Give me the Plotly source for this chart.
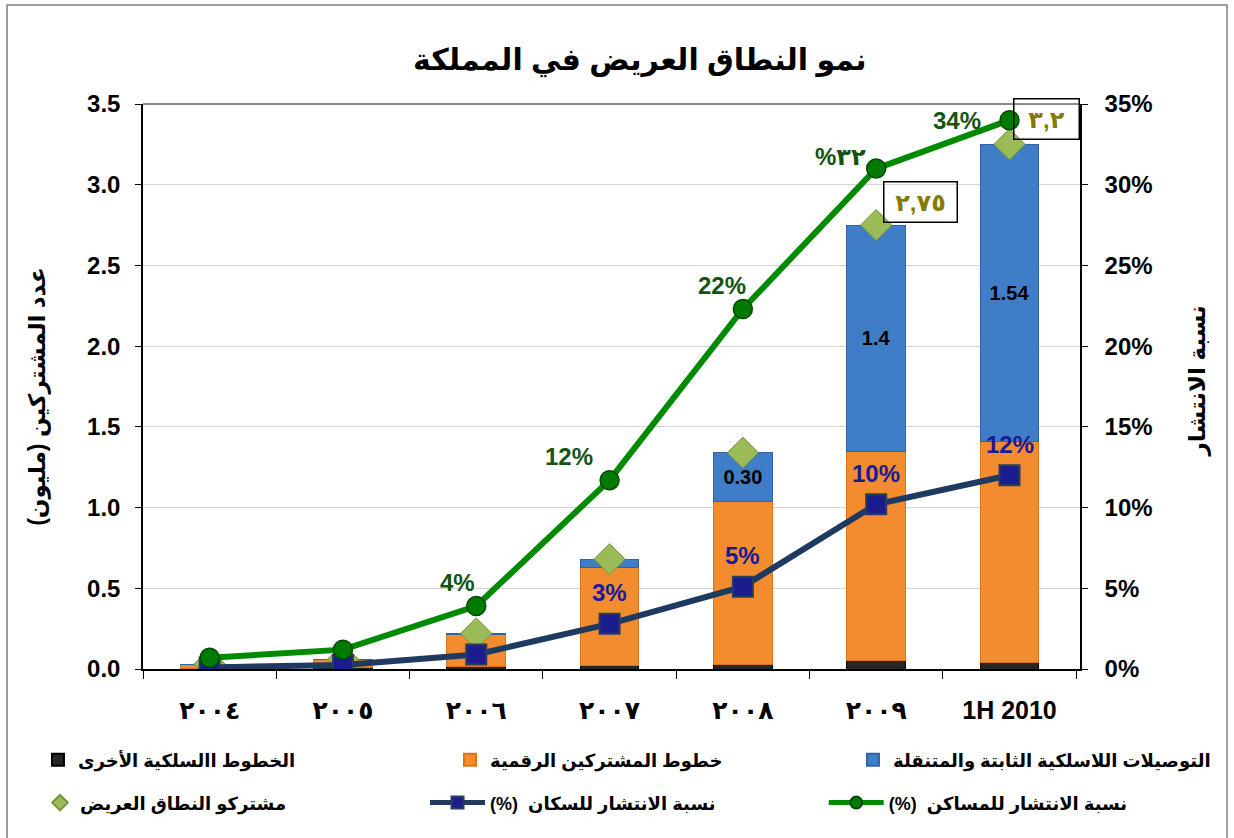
import plotly.graph_objects as go

# ---------------- data ----------------
categories = ["٢٠٠٤", "٢٠٠٥", "٢٠٠٦", "٢٠٠٧", "٢٠٠٨", "٢٠٠٩", "1H 2010"]

other_wired = [0.005, 0.01, 0.015, 0.02, 0.03, 0.05, 0.04]          # million
dsl_lines = [0.025, 0.05, 0.20, 0.61, 1.01, 1.30, 1.37]             # million
wireless = [0.0, 0.0, 0.005, 0.05, 0.30, 1.40, 1.84]                # million
wireless_labels = ["", "", "", "", "0.30", "1.4", "1.54"]

broadband_subs = [0.03, 0.06, 0.22, 0.68, 1.34, 2.75, 3.25]         # million

household_pen = [0.7, 1.2, 3.9, 11.7, 22.3, 31.0, 34.0]             # %
household_labels = ["", "", "4%", "12%", "22%", "%٣٢", "34%"]

population_pen = [0.1, 0.25, 0.9, 2.8, 5.1, 10.2, 12.0]             # %
population_labels = ["", "", "", "3%", "5%", "10%", "12%"]

box_labels = ["", "", "", "", "", "٢,٧٥", "٣,٢"]

left_ticks = [0, 0.5, 1.0, 1.5, 2.0, 2.5, 3.0, 3.5]
right_ticks = [0, 5, 10, 15, 20, 25, 30, 35]
right_ticktext = [f"{v}%" for v in right_ticks]

# ---------------- figure ----------------
FONT = "Arial, 'Liberation Sans', 'DejaVu Sans', sans-serif"
fig = go.Figure()

fig.add_trace(go.Bar(
    x=categories, y=other_wired, name="الخطوط االسلكية الأخرى",
    marker=dict(color="#262626", line=dict(color="#000000", width=1)),
    legend="legend", width=0.44,
))
fig.add_trace(go.Bar(
    x=categories, y=dsl_lines, name="خطوط المشتركين الرقمية",
    marker=dict(color="#F28C2E", line=dict(color="#D8741C", width=1)),
    legend="legend2", width=0.44,
))
fig.add_trace(go.Bar(
    x=categories, y=wireless, name="التوصيلات اللاسلكية الثابتة والمتنقلة",
    marker=dict(color="#3F7DC6", line=dict(color="#2F64A6", width=1)),
    text=wireless_labels, textposition="inside", insidetextanchor="middle",
    textangle=0, textfont=dict(size=20, color="black", family=FONT, weight="bold"),
    legend="legend3", width=0.44,
))
fig.add_trace(go.Scatter(
    x=categories, y=broadband_subs, name="مشتركو النطاق العريض",
    mode="markers",
    marker=dict(symbol="diamond", size=24, color="#9BBB59",
                line=dict(color="#76923C", width=1)),
    legend="legend4",
))
fig.add_trace(go.Scatter(
    x=categories, y=population_pen, name="(%)  نسبة الانتشار للسكان",
    mode="lines+markers", yaxis="y2",
    line=dict(color="#1F3A60", width=6),
    marker=dict(symbol="square", size=20, color="#1C1C8E",
                line=dict(color="#2B3D5C", width=2)),
    legend="legend5",
))
fig.add_trace(go.Scatter(
    x=categories, y=household_pen, name="(%)  نسبة الانتشار للمساكن",
    mode="lines+markers", yaxis="y2",
    line=dict(color="#008A00", width=6),
    marker=dict(symbol="circle", size=19, color="#007A00",
                line=dict(color="#004A00", width=1.5)),
    legend="legend6",
))

annotations = []
# household penetration labels
hh_shift = [(0, 0), (0, 0), (-19, 24), (-41, 24), (-21, 24), (-36, 12), (-53, 0)]
for c, v, t, s in zip(categories, household_pen, household_labels, hh_shift):
    if t:
        annotations.append(dict(x=c, y=v, xref="x", yref="y2", text=t, showarrow=False,
                                xshift=s[0], yshift=s[1],
                                font=dict(size=24, color="#135413", family=FONT, weight="bold")))
# population penetration labels
for c, v, t in zip(categories, population_pen, population_labels):
    if t:
        annotations.append(dict(x=c, y=v, xref="x", yref="y2", text=t, showarrow=False,
                                yshift=31,
                                font=dict(size=24, color="#1A1A9A", family=FONT, weight="bold")))
# boxed totals
box_shift = [None] * 5 + [(44, 23), (37, 25)]
box_w = [None] * 5 + [68, 60]
for c, v, t, s, w in zip(categories, broadband_subs, box_labels, box_shift, box_w):
    if t:
        annotations.append(dict(x=c, y=v, xref="x", yref="y", text=t, showarrow=False,
                                xshift=s[0], yshift=s[1], width=w, height=35,
                                bordercolor="black", borderwidth=1.5, borderpad=2,
                                bgcolor="rgba(255,255,255,0)",
                                font=dict(size=24, color="#857A08", family=FONT, weight="bold")))

# title & axis titles
annotations.append(dict(text="نمو النطاق العريض في المملكة", x=0.530, y=1.112,
                        xref="paper", yref="paper", showarrow=False,
                        font=dict(size=30, color="black", family=FONT, weight="bold")))
annotations.append(dict(text="عدد المشتركين (مليون)", x=-0.129, y=0.481, textangle=-90,
                        xref="paper", yref="paper", showarrow=False,
                        font=dict(size=23, color="black", family=FONT, weight="bold")))
annotations.append(dict(text="نسبة الانتشار", x=1.142, y=0.51, textangle=-90,
                        xref="paper", yref="paper", showarrow=False,
                        font=dict(size=23, color="black", family=FONT, weight="bold")))

shapes = [
    # outer chart border
    dict(type="rect", xref="paper", yref="paper", x0=-0.1451, x1=1.1569, y0=-0.33, y1=1.1752,
         line=dict(color="#7F7F7F", width=1.5), layer="below"),
    # top of plot area
    dict(type="line", xref="paper", yref="paper", x0=0, x1=1, y0=1, y1=1,
         line=dict(color="#8C8C8C", width=2), layer="below"),
]


def leg(x, y, itemwidth=30):
    return dict(orientation="h", x=x, y=y, xanchor="left", yanchor="middle",
                itemwidth=itemwidth,
                font=dict(size=18, family=FONT, color="black", weight="bold"),
                bgcolor="rgba(0,0,0,0)", itemsizing="constant")


ROW1, ROW2 = -0.161, -0.237

fig.update_layout(
    width=1234, height=838,
    margin=dict(l=143, r=154, t=104, b=169),
    paper_bgcolor="white", plot_bgcolor="white",
    barmode="stack", bargap=0.56,
    font=dict(family=FONT, size=20, color="black", weight="bold"),
    showlegend=True,
    legend=leg(-0.1121, ROW1),
    legend2=leg(0.3276, ROW1),
    legend3=leg(0.7577, ROW1),
    legend4=leg(-0.1099, ROW2),
    legend5=leg(0.301, ROW2, 55),
    legend6=leg(0.7265, ROW2, 55),
    xaxis=dict(type="category", showline=True, linecolor="black", linewidth=1.5,
               ticks="outside", tickson="boundaries", ticklen=8, tickcolor="black",
               ticklabelstandoff=18,
               tickfont=dict(size=25, family=FONT, weight="bold"), showgrid=False),
    yaxis=dict(range=[0, 3.5], tickvals=left_ticks, tickformat=".1f",
               showline=True, linecolor="black", linewidth=1.5,
               ticks="outside", ticklen=6, tickcolor="black", ticklabelstandoff=10,
               showgrid=True, gridcolor="#D4D4D4", gridwidth=1, zeroline=False,
               tickfont=dict(size=24, family=FONT, weight="bold")),
    yaxis2=dict(range=[0, 35], tickvals=right_ticks, ticktext=right_ticktext,
                overlaying="y", side="right", showline=True, linecolor="black",
                linewidth=1.5, ticks="outside", ticklen=6, tickcolor="black",
                ticklabelstandoff=12, showgrid=False, zeroline=False,
                tickfont=dict(size=24, family=FONT, weight="bold")),
    annotations=annotations,
    shapes=shapes,
)

fig.write_html("out.html")
